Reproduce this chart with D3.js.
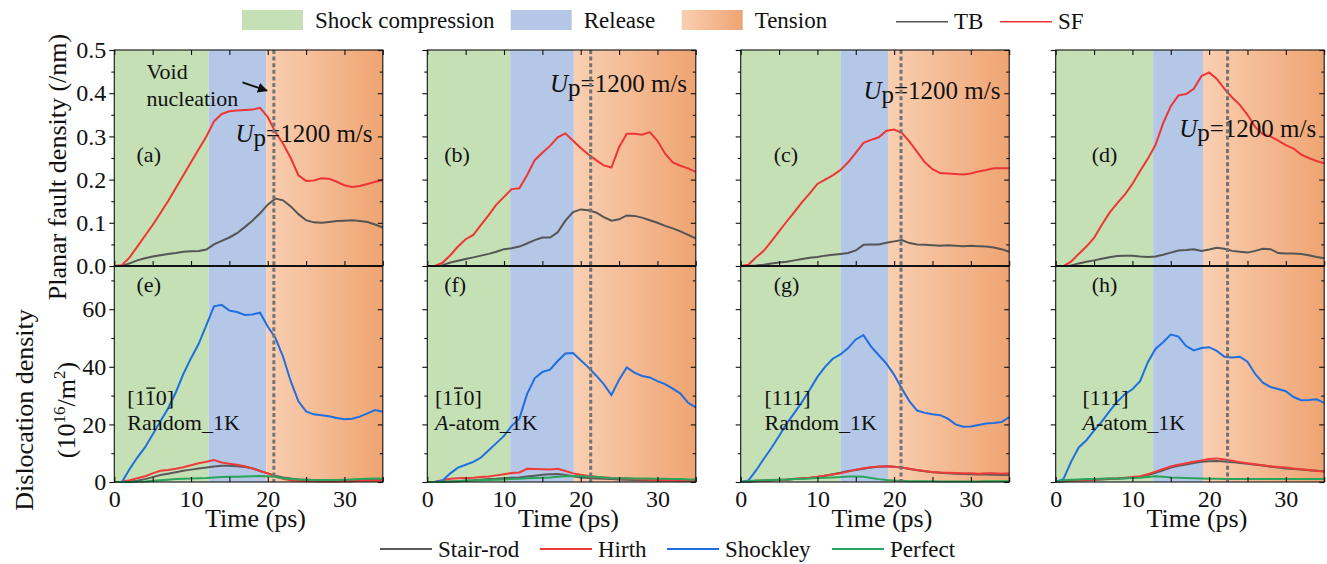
<!DOCTYPE html>
<html>
<head>
<meta charset="utf-8">
<script src="https://cdn.jsdelivr.net/npm/d3@7"></script>
<style>
  body { margin: 0; background: #fff; }
  text { font-family: "Liberation Serif", "Times New Roman", serif; fill: #111; }
</style>
</head>
<body>
<svg id="chart" width="1327" height="564"></svg>
<script>
// ---- data -------------------------------------------------------------
const timePs = [0,1,2,3,4,5,6,7,8,9,10,11,12,13,14,15,16,17,18,19,20,21,22,23,24,25,26,27,28,29,30,31,32,33,34,35];

// planar fault density (/nm): twin boundary (TB) and stacking fault (SF)
const tbA = [0,0,0.006,0.013,0.018,0.022,0.025,0.028,0.03,0.033,0.034,0.035,0.038,0.05,0.058,0.066,0.076,0.09,0.105,0.122,0.142,0.156,0.152,0.138,0.12,0.106,0.101,0.1,0.102,0.104,0.105,0.106,0.104,0.102,0.096,0.089];
const sfA = [0,0.002,0.02,0.045,0.07,0.095,0.122,0.15,0.18,0.21,0.24,0.27,0.3,0.335,0.352,0.358,0.36,0.361,0.362,0.366,0.345,0.31,0.283,0.25,0.21,0.197,0.198,0.203,0.202,0.195,0.187,0.183,0.185,0.19,0.195,0.199];
const tbB = [0,0,0.002,0.008,0.012,0.016,0.02,0.024,0.028,0.033,0.039,0.041,0.045,0.052,0.06,0.066,0.066,0.078,0.105,0.125,0.131,0.129,0.124,0.113,0.105,0.108,0.117,0.116,0.112,0.106,0.1,0.093,0.087,0.08,0.072,0.064];
const sfB = [0,0,0.008,0.025,0.045,0.062,0.072,0.095,0.118,0.142,0.16,0.178,0.18,0.21,0.245,0.262,0.278,0.298,0.307,0.29,0.273,0.258,0.245,0.233,0.228,0.275,0.306,0.306,0.304,0.31,0.29,0.26,0.24,0.232,0.226,0.218];
const tbC = [0,0,0.001,0.003,0.006,0.008,0.01,0.013,0.016,0.019,0.021,0.024,0.026,0.028,0.03,0.036,0.049,0.05,0.05,0.054,0.057,0.06,0.053,0.05,0.049,0.048,0.047,0.048,0.047,0.046,0.047,0.046,0.045,0.043,0.039,0.033];
const sfC = [0,0.003,0.02,0.035,0.057,0.08,0.103,0.125,0.148,0.168,0.19,0.2,0.21,0.222,0.24,0.262,0.285,0.292,0.298,0.313,0.316,0.308,0.288,0.264,0.24,0.224,0.215,0.214,0.213,0.212,0.214,0.219,0.222,0.226,0.226,0.226];
const tbD = [0,0,0.001,0.006,0.01,0.013,0.017,0.02,0.023,0.024,0.024,0.022,0.021,0.022,0.026,0.031,0.036,0.037,0.039,0.035,0.038,0.042,0.04,0.035,0.033,0.031,0.035,0.04,0.039,0.03,0.029,0.029,0.028,0.025,0.021,0.018];
const sfD = [0,0,0.01,0.028,0.045,0.065,0.095,0.123,0.145,0.165,0.19,0.22,0.248,0.28,0.33,0.37,0.395,0.398,0.41,0.44,0.448,0.433,0.41,0.39,0.373,0.35,0.322,0.305,0.3,0.29,0.28,0.272,0.258,0.25,0.243,0.238];

// dislocation density (10^16 /m^2)
const stairE    = [0,0,0.1,0.4,1,1.7,2.4,2.9,3.4,3.9,4.3,4.7,5,5.4,5.6,5.6,5.5,5.2,4.8,3.8,3,2.2,1.6,1.2,0.9,0.8,0.7,0.7,0.7,0.6,0.6,0.7,0.7,0.8,0.8,0.8];
const hirthE    = [0,0.1,0.6,1.3,2,3,3.9,4.2,4.6,5.1,5.8,6.5,7,7.6,6.8,6.3,6,5.5,4.7,3.8,3,1.9,1.1,0.6,0.4,0.3,0.3,0.2,0.2,0.2,0.3,0.3,0.4,0.4,0.5,0.5];
const shockleyE = [0,0,4.5,8.5,12,16.5,21,25.5,31,37.5,43,48,54.5,61,61.5,59.5,59,58,58.2,58.8,54,50,43.5,35,28,24.5,23.5,23.2,22.8,22.2,21.8,22,22.7,23.8,25,24.4];
const perfectE  = [0,0,0,0.1,0.2,0.4,0.6,0.8,1,1.1,1.2,1.3,1.4,1.6,1.7,1.8,1.8,1.9,2,2.1,2,1.7,1.3,1,0.9,0.8,0.7,0.7,0.7,0.7,0.8,0.9,1,1.1,1.2,1.2];

const stairF    = [0,0,0.1,0.2,0.3,0.5,0.6,0.8,1,1.1,1.3,1.5,1.6,1.9,2.2,2.5,2.7,2.8,2.4,2,1.6,1.4,1.2,1.1,1,0.9,0.8,0.7,0.6,0.6,0.5,0.5,0.5,0.4,0.4,0.4];
const hirthF    = [0,0.1,0.6,1.1,1.3,1.4,1.5,1.7,1.9,2.3,2.7,3.1,3.3,4.6,4.5,4.4,4.3,4.6,3.8,3,2.5,2.1,1.8,1.6,1.4,1.3,1.2,1,0.9,0.8,0.7,0.7,0.7,0.6,0.6,0.6];
const shockleyF = [0,0,0.5,3,5,6,7,8.5,11,13.5,16,19.5,22,30.5,36,38.2,39,42,44.6,44.8,42.3,39.8,37,34,30.2,35.5,39.8,38,36.8,36.3,35,34,32.4,30.7,27.5,25.9];
const perfectF  = [0,0,0.1,0.2,0.3,0.4,0.5,0.6,0.7,0.8,0.9,1,1.1,1.3,1.4,1.5,1.6,1.8,2,2.1,2,1.9,1.8,1.6,1.4,1.3,1.3,1.2,1.2,1.2,1.1,1.1,1,1,0.9,0.9];

const stairG    = [0,0.1,0.3,0.4,0.5,0.7,0.8,1,1.2,1.4,1.7,2.2,2.7,3.2,3.8,4.2,4.6,5,5.3,5.5,5.3,5,4.5,4.1,3.7,3.4,3.2,3,2.9,2.8,2.7,2.6,2.6,2.5,2.4,2.4];
const hirthG    = [0,0.2,0.4,0.5,0.6,0.8,0.9,1.1,1.3,1.5,1.8,2.2,2.6,3,3.6,4.3,4.8,5.1,5.4,5.5,5.3,5,4.6,4.2,3.8,3.5,3.3,3.2,3.1,3,3,2.9,3,3,2.9,3];
const shockleyG = [0,0.5,4,8,11.8,16,20.3,24,27.8,32,36.5,40,42.8,44.3,46.5,49.5,51,47,44,41.1,37.2,32.5,28,24.8,24,23.5,23.2,22,20,19.2,19.3,19.8,20.3,20.5,20.8,22.5];
const perfectG  = [0,0.3,0.5,0.6,0.7,0.8,0.9,1,1.1,1.2,1.4,1.5,1.6,1.7,1.9,1.9,1.8,1.4,1,0.7,0.5,0.4,0.3,0.3,0.3,0.3,0.2,0.2,0.2,0.2,0.2,0.2,0.3,0.3,0.3,0.3];

const stairH    = [0,0.2,0.4,0.5,0.6,0.8,0.9,1,1.1,1.3,1.5,1.8,2.4,3.2,4.1,5,5.6,6.1,6.6,7,7.2,7.3,7.1,6.9,6.6,6.3,6,5.7,5.3,5,4.7,4.5,4.3,4.1,3.9,3.7];
const hirthH    = [0,0.4,0.6,0.7,0.8,0.9,1,1.2,1.3,1.5,1.7,2,2.7,3.6,4.5,5.4,6,6.5,7,7.5,8,8.2,7.8,7.4,6.9,6.5,6.2,5.8,5.5,5.2,5,4.7,4.4,4.2,3.9,3.6];
const shockleyH = [0,1,7,12,14.5,17.8,21,24.5,27.8,30.5,32.2,35,41.5,46.2,48.5,51.2,50.5,47.2,45.7,46.5,46.8,45.5,43.5,43.2,43.5,41.8,37.5,34.5,33,32.3,31.5,29.5,28.4,28.5,28.7,27.5];
const perfectH  = [0,0.6,0.8,0.9,1,1,1.1,1.2,1.2,1.3,1.4,1.5,1.7,2,1.8,1.6,1.5,1.4,1.3,1.2,1.1,1.1,1,1,1,1,1,1,1,1,1,1,1,1,1,1];

// loading phases (ps) and void-nucleation time (ps) for each column
const compressionEnd = [12.3, 10.8, 13.0, 12.7];
const releaseEnd     = [19.8, 19.1, 19.2, 19.2];
const voidTime       = [20.8, 21.3, 20.9, 22.4];

// tick values and labels
const xTicksMajor = [0, 10, 20, 30];
const xTicksAll   = [0, 5, 10, 15, 20, 25, 30, 35];
const yTopMajor   = [0, 0.1, 0.2, 0.3, 0.4, 0.5];
const yTopMinor   = [0.05, 0.15, 0.25, 0.35, 0.45];
const yBotMajor   = [0, 20, 40, 60];
const yBotMinor   = [10, 30, 50, 70];

const topLabels    = ["(a)", "(b)", "(c)", "(d)"];
const bottomLabels = ["(e)", "(f)", "(g)", "(h)"];
const orientations = ["[110]", "[110]", "[111]", "[111]"];
const orientBar    = [true, true, false, false];   // overbar on the middle index
const samples      = ["Random_1K", "A-atom_1K", "Random_1K", "A-atom_1K"];
const velocityText = "=1200 m/s";

const topSeries = [[tbA, sfA], [tbB, sfB], [tbC, sfC], [tbD, sfD]];
const botSeries = [
  [stairE, hirthE, shockleyE, perfectE],
  [stairF, hirthF, shockleyF, perfectF],
  [stairG, hirthG, shockleyG, perfectG],
  [stairH, hirthH, shockleyH, perfectH]
];

// ---- layout & style ---------------------------------------------------
const colors = {
  TB: "#555555", SF: "#ee3535",
  stair: "#5a5a5a", hirth: "#ef3a3a", shockley: "#1f6fe0", perfect: "#2aa55c",
  compression: "#c5e0b4", release: "#b4c7e7"
};
const botColors = [colors.stair, colors.hirth, colors.shockley, colors.perfect];
const panelLeft = [114.3, 427.3, 740.7, 1055.7];
const panelWidth = 268.5;
const topY0 = 50, midY = 266, botY1 = 482;

// annotation anchors in data units
const labelT   = [2.9, 2.2, 4.3, 4.7];
const upAnchor = [[15.8, 0.287], [16.0, 0.4025], [16.0, 0.386], [16.1, 0.299]];

const svg = d3.select("#chart");
const defs = svg.append("defs");
const grad = defs.append("linearGradient").attr("id", "tensionFill")
  .attr("x1", 0).attr("x2", 1).attr("y1", 0).attr("y2", 0);
grad.append("stop").attr("offset", 0).attr("stop-color", "#f9cfb2");
grad.append("stop").attr("offset", 1).attr("stop-color", "#efa472");
defs.append("marker").attr("id", "arrowHead")
  .attr("viewBox", "0 0 10 10").attr("refX", 9).attr("refY", 5)
  .attr("markerWidth", 5).attr("markerHeight", 5).attr("orient", "auto")
  .append("path").attr("d", "M0,0 L10,5 L0,10 Z").attr("fill", "#111");

const yTop = d3.scaleLinear().domain([0, 0.5]).range([midY, topY0]);
const yBot = d3.scaleLinear().domain([0, 75]).range([botY1, midY]);

function styleAxis(g, size) {
  g.select(".domain").remove();
  g.selectAll("line").attr("stroke", "#111").attr("stroke-width", 1.1);
  g.selectAll("text").attr("font-size", size).attr("fill", "#111")
    .attr("font-family", '"Liberation Serif", "Times New Roman", serif');
}

panelLeft.forEach((left, i) => {
  const x = d3.scaleLinear().domain([0, 35]).range([left, left + panelWidth]);
  const g = svg.append("g");

  // loading-phase bands across both rows
  g.append("rect").attr("x", x(0)).attr("y", topY0)
    .attr("width", x(compressionEnd[i]) - x(0)).attr("height", botY1 - topY0)
    .attr("fill", colors.compression);
  g.append("rect").attr("x", x(compressionEnd[i])).attr("y", topY0)
    .attr("width", x(releaseEnd[i]) - x(compressionEnd[i])).attr("height", botY1 - topY0)
    .attr("fill", colors.release);
  g.append("rect").attr("x", x(releaseEnd[i])).attr("y", topY0)
    .attr("width", x(35) - x(releaseEnd[i])).attr("height", botY1 - topY0)
    .attr("fill", "url(#tensionFill)");

  // curves
  const lineTop = d3.line().x((d, k) => x(timePs[k])).y(d => yTop(d));
  const lineBot = d3.line().x((d, k) => x(timePs[k])).y(d => yBot(d));
  const [tb, sf] = topSeries[i];
  g.append("path").attr("d", lineTop(tb)).attr("fill", "none")
    .attr("stroke", colors.TB).attr("stroke-width", 2);
  g.append("path").attr("d", lineTop(sf)).attr("fill", "none")
    .attr("stroke", colors.SF).attr("stroke-width", 2);
  botSeries[i].forEach((s, k) => {
    g.append("path").attr("d", lineBot(s)).attr("fill", "none")
      .attr("stroke", botColors[k]).attr("stroke-width", 2);
  });

  // text annotations
  g.append("text").attr("x", x(labelT[i])).attr("y", 161.7)
    .attr("font-size", 22).text(topLabels[i]);
  g.append("text").attr("x", x(labelT[i])).attr("y", 291.7)
    .attr("font-size", 22).text(bottomLabels[i]);

  const up = g.append("text").attr("x", x(upAnchor[i][0])).attr("y", yTop(upAnchor[i][1]))
    .attr("font-size", 25);
  up.append("tspan").attr("font-style", "italic").text("U");
  up.append("tspan").attr("dy", 4).text("p");
  up.append("tspan").attr("dy", -4).text(velocityText);

  const oriT = g.append("text").attr("x", x(labelT[i] - 1.2)).attr("y", yBot(26.7))
    .attr("font-size", 22).text(orientations[i]);
  if (orientBar[i]) {
    const n = oriT.node();
    const s = n.getStartPositionOfChar(2), e = n.getEndPositionOfChar(2);
    g.append("line").attr("x1", s.x + 1.5).attr("x2", e.x - 0.5)
      .attr("y1", yBot(26.7) - 17).attr("y2", yBot(26.7) - 17)
      .attr("stroke", "#111").attr("stroke-width", 1.4);
  }
  const smp = g.append("text").attr("x", x(labelT[i] - 1.2)).attr("y", yBot(18))
    .attr("font-size", 22);
  if (samples[i].startsWith("A-")) {
    smp.append("tspan").attr("font-style", "italic").text("A");
    smp.append("tspan").text(samples[i].slice(1));
  } else {
    smp.text(samples[i]);
  }

  // void nucleation marker
  g.append("line").attr("x1", x(voidTime[i])).attr("x2", x(voidTime[i]))
    .attr("y1", topY0).attr("y2", botY1)
    .attr("stroke", "#737373").attr("stroke-width", 3).attr("stroke-dasharray", "4,2.6");

  // frames
  g.append("rect").attr("x", x(0)).attr("y", topY0).attr("width", panelWidth)
    .attr("height", botY1 - topY0).attr("fill", "none").attr("stroke", "#111").attr("stroke-width", 1.1);
  g.append("line").attr("x1", x(0)).attr("x2", x(35)).attr("y1", midY).attr("y2", midY)
    .attr("stroke", "#111").attr("stroke-width", 2.2);

  // left axes (outward ticks)
  const la = g.append("g").attr("transform", `translate(${x(0)},0)`)
    .call(d3.axisLeft(yTop).tickValues(yTopMajor).tickSize(5).tickPadding(3)
      .tickFormat(i === 0 ? d3.format(".1f") : () => ""));
  styleAxis(la, 24);
  styleAxis(g.append("g").attr("transform", `translate(${x(0)},0)`)
    .call(d3.axisLeft(yTop).tickValues(yTopMinor).tickSize(3).tickFormat(() => "")), 24);
  const lb = g.append("g").attr("transform", `translate(${x(0)},0)`)
    .call(d3.axisLeft(yBot).tickValues(yBotMajor).tickSize(5).tickPadding(3)
      .tickFormat(i === 0 ? d3.format("d") : () => ""));
  styleAxis(lb, 24);
  styleAxis(g.append("g").attr("transform", `translate(${x(0)},0)`)
    .call(d3.axisLeft(yBot).tickValues(yBotMinor).tickSize(3).tickFormat(() => "")), 24);

  // right axes (inward ticks)
  styleAxis(g.append("g").attr("transform", `translate(${x(35)},0)`)
    .call(d3.axisLeft(yTop).tickValues(yTopMajor).tickSize(5).tickFormat(() => "")), 24);
  styleAxis(g.append("g").attr("transform", `translate(${x(35)},0)`)
    .call(d3.axisLeft(yTop).tickValues(yTopMinor).tickSize(3).tickFormat(() => "")), 24);
  styleAxis(g.append("g").attr("transform", `translate(${x(35)},0)`)
    .call(d3.axisLeft(yBot).tickValues(yBotMajor).tickSize(5).tickFormat(() => "")), 24);
  styleAxis(g.append("g").attr("transform", `translate(${x(35)},0)`)
    .call(d3.axisLeft(yBot).tickValues(yBotMinor).tickSize(3).tickFormat(() => "")), 24);

  // top and bottom time axes (inward ticks)
  styleAxis(g.append("g").attr("transform", `translate(0,${topY0})`)
    .call(d3.axisBottom(x).tickValues(xTicksAll).tickSize(5).tickFormat(() => "")), 24);
  styleAxis(g.append("g").attr("transform", `translate(0,${midY})`)
    .call(d3.axisTop(x).tickValues(xTicksAll).tickSize(5).tickFormat(() => "")), 24);
  styleAxis(g.append("g").attr("transform", `translate(0,${botY1})`)
    .call(d3.axisTop(x).tickValues(xTicksAll).tickSize(5).tickFormat(() => "")), 24);
  const xb = g.append("g").attr("transform", `translate(0,${botY1})`)
    .call(d3.axisBottom(x).tickValues(xTicksMajor).tickSize(0).tickPadding(8).tickFormat(d3.format("d")));
  styleAxis(xb, 24);

  g.append("text").attr("x", x(17.5) + 7).attr("y", 527).attr("text-anchor", "middle")
    .attr("font-size", 26).text("Time (ps)");

  if (i === 0) {
    g.append("text").attr("x", x(4.2)).attr("y", yTop(0.434)).attr("font-size", 22).text("Void");
    g.append("text").attr("x", x(4.2)).attr("y", yTop(0.37)).attr("font-size", 22).text("nucleation");
    g.append("line").attr("x1", x(16.7)).attr("y1", yTop(0.425))
      .attr("x2", x(19.9)).attr("y2", yTop(0.406))
      .attr("stroke", "#111").attr("stroke-width", 2).attr("marker-end", "url(#arrowHead)");
  }
});

// y-axis titles
svg.append("text").attr("transform", "translate(66,167) rotate(-90)")
  .attr("text-anchor", "middle").attr("font-size", 26).text("Planar fault density (/nm)");
svg.append("text").attr("transform", "translate(33,410) rotate(-90)")
  .attr("text-anchor", "middle").attr("font-size", 26).text("Dislocation density");
const unit = svg.append("text").attr("transform", "translate(75,410) rotate(-90)")
  .attr("text-anchor", "middle").attr("font-size", 26);
unit.append("tspan").text("(10");
unit.append("tspan").attr("font-size", 17).attr("dy", -10).text("16");
unit.append("tspan").attr("dy", 10).text("/m");
unit.append("tspan").attr("font-size", 17).attr("dy", -10).text("2");
unit.append("tspan").attr("dy", 10).text(")");

// top legend: phases and planar fault types
const phaseLegend = [
  { label: "Shock compression", fill: colors.compression, x: 242 },
  { label: "Release", fill: colors.release, x: 510.7 },
  { label: "Tension", fill: "url(#tensionFill)", x: 681.7 }
];
phaseLegend.forEach(p => {
  svg.append("rect").attr("x", p.x).attr("y", 10).attr("width", 61).attr("height", 20).attr("fill", p.fill);
  svg.append("text").attr("x", p.x + 73).attr("y", 28.3).attr("font-size", 23).text(p.label);
});
const faultLegend = [
  { label: "TB", color: colors.TB, x: 896 },
  { label: "SF", color: colors.SF, x: 1000 }
];
faultLegend.forEach(p => {
  svg.append("line").attr("x1", p.x).attr("x2", p.x + 52).attr("y1", 21.7).attr("y2", 21.7)
    .attr("stroke", p.color).attr("stroke-width", 1.6);
  svg.append("text").attr("x", p.x + 58).attr("y", 29).attr("font-size", 23).text(p.label);
});

// bottom legend: dislocation types
const dislocLegend = [
  { label: "Stair-rod", color: colors.stair, x: 380 },
  { label: "Hirth", color: colors.hirth, x: 540 },
  { label: "Shockley", color: colors.shockley, x: 667 },
  { label: "Perfect", color: colors.perfect, x: 832 }
];
dislocLegend.forEach(p => {
  svg.append("line").attr("x1", p.x).attr("x2", p.x + 52).attr("y1", 549).attr("y2", 549)
    .attr("stroke", p.color).attr("stroke-width", 2);
  svg.append("text").attr("x", p.x + 58).attr("y", 557).attr("font-size", 23).text(p.label);
});
</script>
</body>
</html>
